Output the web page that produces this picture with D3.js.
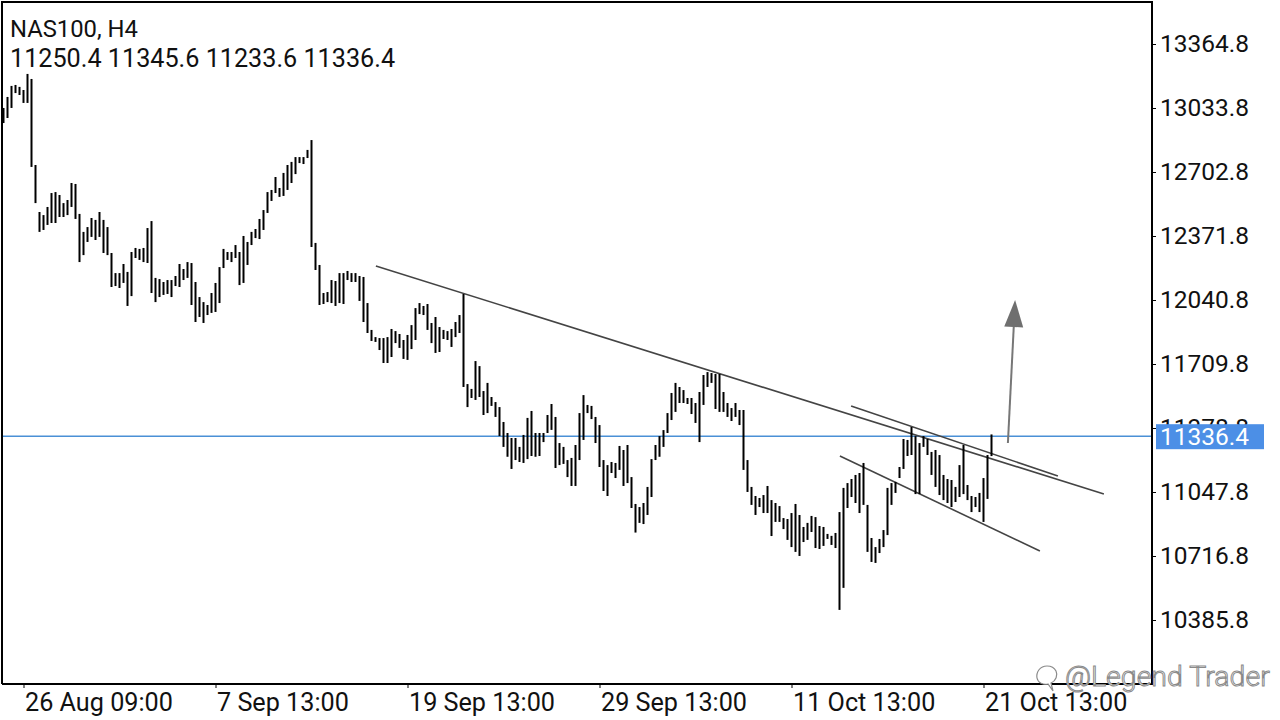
<!DOCTYPE html>
<html>
<head>
<meta charset="utf-8">
<script src="https://cdn.jsdelivr.net/npm/d3@7"></script>
<style>
  html, body { margin: 0; padding: 0; background: #fff; }
  svg { display: block; font-family: Roboto, "Noto Sans", sans-serif; }
</style>
</head>
<body>
<svg id="chart" width="1280" height="720"></svg>
<script>
"use strict";

/********/
/* data */
/********/

const symbol = "NAS100, H4";
const lastOHLC = [11250.4, 11345.6, 11233.6, 11336.4];
const currentPrice = 11336.4;

// H4 bar highs and lows, oldest first
const highs = [
  13034, 13091, 13148, 13153, 13143, 13127, 13210, 13184, 12739, 12496,
  12480, 12522, 12594, 12599, 12584, 12542, 12558, 12646, 12641, 12486,
  12393, 12418, 12465, 12455, 12496, 12455, 12418, 12284, 12180, 12180,
  12227, 12186, 12289, 12310, 12305, 12310, 12413, 12449, 12155, 12149,
  12134, 12144, 12144, 12165, 12227, 12201, 12237, 12232, 12134, 12056,
  12030, 12015, 12077, 12129, 12211, 12305, 12289, 12289, 12325, 12289,
  12372, 12341, 12393, 12408, 12460, 12506, 12599, 12610, 12677, 12620,
  12698, 12739, 12755, 12780, 12780, 12780, 12817, 12868, 12336, 12222,
  12077, 12082, 12144, 12139, 12180, 12180, 12191, 12180, 12180, 12165,
  12160, 12025, 11886, 11849, 11844, 11844, 11849, 11891, 11880, 11865,
  11834, 11860, 11911, 11999, 12025, 12010, 12020, 11922, 11953, 11901,
  11886, 11880, 11891, 11927, 11963, 12072, 11606, 11581, 11725, 11699,
  11570, 11612, 11539, 11513, 11487, 11410, 11353, 11327, 11327, 11281,
  11343, 11431, 11467, 11353, 11353, 11353, 11446, 11503, 11436, 11301,
  11281, 11213, 11224, 11291, 11456, 11549, 11498, 11493, 11436, 11394,
  11213, 11187, 11203, 11198, 11286, 11265, 11291, 11125, 10986, 10970,
  10991, 11074, 11218, 11291, 11337, 11368, 11456, 11560, 11612, 11591,
  11575, 11534, 11534, 11508, 11565, 11653, 11668, 11663, 11658, 11658,
  11565, 11508, 11482, 11508, 11472, 11472, 11213, 11074, 11027, 11017,
  11032, 11079, 11006, 10991, 10975, 10913, 10908, 10939, 10986, 10929,
  10867, 10888, 10924, 10918, 10872, 10867, 10831, 10821, 10836, 10944,
  11069, 11094, 11115, 11136, 11146, 11198, 10981, 10810, 10763, 10805,
  10851, 11069, 11094, 11100, 11177, 11322, 11317, 11384, 11337, 11301,
  11337, 11322, 11255, 11265, 11239, 11136, 11115, 11110, 11074, 11187,
  11291, 11084, 11027, 11022, 11043, 11120, 11239, 11345.6
];

const lows = [
  12956, 12982, 13034, 13111, 13101, 13060, 13060, 12729, 12542, 12393,
  12403, 12429, 12439, 12439, 12470, 12470, 12480, 12522, 12460, 12237,
  12273, 12341, 12367, 12351, 12367, 12284, 12273, 12108, 12113, 12103,
  12129, 12010, 12061, 12258, 12248, 12237, 12232, 12077, 12030, 12056,
  12067, 12072, 12056, 12113, 12108, 12144, 12155, 12015, 11927, 11953,
  11922, 11963, 11974, 11979, 12025, 12206, 12248, 12237, 12258, 12118,
  12129, 12222, 12325, 12361, 12356, 12403, 12491, 12553, 12594, 12574,
  12579, 12610, 12646, 12692, 12749, 12744, 12775, 12315, 12196, 12015,
  12020, 12030, 12025, 12010, 12025, 12020, 12144, 12134, 12134, 12036,
  11927, 11870, 11829, 11824, 11782, 11715, 11715, 11746, 11818, 11793,
  11736, 11731, 11787, 11834, 11968, 11963, 11886, 11818, 11767, 11772,
  11839, 11834, 11798, 11849, 11870, 11591, 11487, 11534, 11524, 11539,
  11446, 11456, 11493, 11436, 11337, 11281, 11230, 11167, 11213, 11203,
  11198, 11218, 11234, 11230, 11234, 11306, 11353, 11369, 11172, 11187,
  11193, 11125, 11079, 11079, 11213, 11317, 11456, 11425, 11301, 11177,
  11053, 11027, 11146, 11120, 11162, 11079, 11094, 10965, 10838, 10888,
  10882, 10929, 11022, 11213, 11230, 11281, 11353, 11420, 11462, 11508,
  11508, 11503, 11451, 11405, 11306, 11498, 11591, 11612, 11477, 11462,
  11462, 11436, 11415, 11436, 11394, 11162, 11048, 10981, 10929, 10970,
  10939, 10939, 10820, 10893, 10893, 10856, 10800, 10763, 10738, 10717,
  10789, 10800, 10841, 10758, 10753, 10769, 10805, 10774, 10758, 10438,
  10552, 10965, 11022, 10991, 10939, 10981, 10738, 10686, 10681, 10732,
  10763, 10825, 10981, 11043, 11120, 11167, 11234, 11239, 11037, 11037,
  11281, 11239, 11136, 11074, 11032, 11006, 10991, 10970, 10996, 11022,
  11037, 11006, 10944, 10970, 10944, 10893, 11012, 11233.6
];

const priceTicks = [13364.8, 13033.8, 12702.8, 12371.8, 12040.8, 11709.8, 11378.8, 11047.8, 10716.8, 10385.8];

const timeTickBars = [5, 53, 101, 149, 197, 245];
const timeTickLabels = ["26 Aug 09:00", "7 Sep 13:00", "19 Sep 13:00", "29 Sep 13:00", "11 Oct 13:00", "21 Oct 13:00"];

// hand-drawn objects: [bar, price] end points
const trendLines = [
  [[93.1, 12216.7], [275.1, 11037.5]],
  [[211.9, 11492.6], [263.6, 11130.6]],
  [[209.1, 11234.0], [259.1, 10742.7]]
];
const arrowPoints = [[251.1, 11301.0], [252.9, 12040.8]];

const watermark = "@Legend Trader";

/*********/
/* setup */
/*********/

const plot = { left: 2, top: 2, right: 1152, bottom: 684 };

const svg = d3.select("#chart");

const x = d3
  .scaleLinear()
  .domain([0, highs.length - 1])
  .range([3.5, 991.5]);

const y = d3
  .scaleLinear()
  .domain([priceTicks[priceTicks.length - 1], priceTicks[0]])
  .range([620, 44]);

/********/
/* view */
/********/

const bars = d3.range(highs.length).map(i => ({ i: i, high: highs[i], low: lows[i] }));

svg
  .append("defs")
  .append("clipPath")
  .attr("id", "plot-clip")
  .append("rect")
  .attr("x", plot.left)
  .attr("y", plot.top)
  .attr("width", plot.right - plot.left)
  .attr("height", plot.bottom - plot.top);

const inner = svg.append("g").attr("clip-path", "url(#plot-clip)");

// current price line
inner
  .append("line")
  .attr("x1", plot.left)
  .attr("x2", plot.right)
  .attr("y1", y(currentPrice))
  .attr("y2", y(currentPrice))
  .attr("stroke", "#4a90d6")
  .attr("stroke-width", 1.5);

// trend lines
inner
  .selectAll(".trend")
  .data(trendLines)
  .enter()
  .append("line")
  .attr("class", "trend")
  .attr("x1", d => x(d[0][0]))
  .attr("y1", d => y(d[0][1]))
  .attr("x2", d => x(d[1][0]))
  .attr("y2", d => y(d[1][1]))
  .attr("stroke", "#444")
  .attr("stroke-width", 1.6);

// bars
inner
  .selectAll(".bar")
  .data(bars)
  .enter()
  .append("line")
  .attr("class", "bar")
  .attr("x1", d => x(d.i))
  .attr("x2", d => x(d.i))
  .attr("y1", d => y(d.high))
  .attr("y2", d => y(d.low))
  .attr("stroke", "#000")
  .attr("stroke-width", 2);

// arrow
const a0 = [x(arrowPoints[0][0]), y(arrowPoints[0][1])];
const a1 = [x(arrowPoints[1][0]), y(arrowPoints[1][1])];
const ang = Math.atan2(a1[1] - a0[1], a1[0] - a0[0]);
const headLen = 27;
const headHalf = 9.5;
const base = [a1[0] - headLen * Math.cos(ang), a1[1] - headLen * Math.sin(ang)];
const nx = -Math.sin(ang);
const ny = Math.cos(ang);

inner
  .append("line")
  .attr("x1", a0[0])
  .attr("y1", a0[1])
  .attr("x2", base[0])
  .attr("y2", base[1])
  .attr("stroke", "#777")
  .attr("stroke-width", 2);

inner
  .append("path")
  .attr("d", d3.line()([
    a1,
    [base[0] + nx * headHalf, base[1] + ny * headHalf],
    [base[0] - nx * headHalf, base[1] - ny * headHalf]
  ]) + "Z")
  .attr("fill", "#6f6f6f");

// frame
svg
  .append("path")
  .attr("d", "M" + plot.left + "," + plot.bottom + "V" + plot.top + "H" + plot.right + "V" + plot.bottom + "H" + plot.left)
  .attr("fill", "none")
  .attr("stroke", "#000")
  .attr("stroke-width", 1.2)
  .attr("shape-rendering", "crispEdges");

// price axis
const yAxis = svg
  .append("g")
  .attr("transform", "translate(" + plot.right + ",0)")
  .call(
    d3.axisRight(y)
      .tickValues(priceTicks)
      .tickFormat(d3.format(".1f"))
      .tickSize(4)
      .tickPadding(4)
  );
yAxis.select(".domain").remove();
yAxis.selectAll("text").attr("font-size", 24.5).attr("font-family", "Roboto").attr("fill", "#111");
yAxis.selectAll("line").attr("stroke", "#000");

// time axis
const xAxis = svg
  .append("g")
  .attr("transform", "translate(0," + plot.bottom + ")")
  .call(
    d3.axisBottom(x)
      .tickValues(timeTickBars)
      .tickFormat((d, k) => timeTickLabels[k])
      .tickSize(4)
      .tickPadding(5)
  );
xAxis.select(".domain").remove();
xAxis
  .selectAll("text")
  .attr("text-anchor", "start")
  .attr("x", 1)
  .attr("font-size", 25.2)
  .attr("font-family", "Roboto")
  .attr("fill", "#111");
xAxis.selectAll("line").attr("stroke", "#000");

// current price label (covers the 11378.8 tick label as in the terminal)
const tagY = y(currentPrice);
svg
  .append("rect")
  .attr("x", 1156)
  .attr("y", tagY - 12)
  .attr("width", 108)
  .attr("height", 25)
  .attr("fill", "#4c8fe6");
svg
  .append("text")
  .attr("x", 1160)
  .attr("y", tagY)
  .attr("dy", "0.35em")
  .attr("font-size", 24.5)
  .attr("fill", "#fff")
  .text(d3.format(".1f")(currentPrice));

// header
svg
  .append("text")
  .attr("x", 10)
  .attr("y", 37)
  .attr("font-size", 23.8)
  .attr("fill", "#111")
  .text(symbol);
svg
  .append("text")
  .attr("x", 10)
  .attr("y", 67)
  .attr("font-size", 25.2)
  .attr("fill", "#111")
  .text(lastOHLC.map(d3.format(".1f")).join(" "));

// watermark
const wm = svg.append("g").attr("transform", "translate(1035,663)");
wm
  .append("path")
  .attr("d", "M12,3 C5,3 1,9 2,15 C3,20 8,22 13,21 L18,28 L16,20 C21,18 23,12 21,8 C19,4 16,3 12,3 Z")
  .attr("fill", "#fff")
  .attr("stroke", "#8a8a8a")
  .attr("stroke-width", 1.2);
wm
  .append("text")
  .attr("x", 30)
  .attr("y", 23)
  .attr("font-size", 28.5)
  .attr("font-weight", 300)
  .attr("fill", "#fff")
  .attr("stroke", "#8a8a8a")
  .attr("stroke-width", 1)
  .text(watermark);
</script>
</body>
</html>
